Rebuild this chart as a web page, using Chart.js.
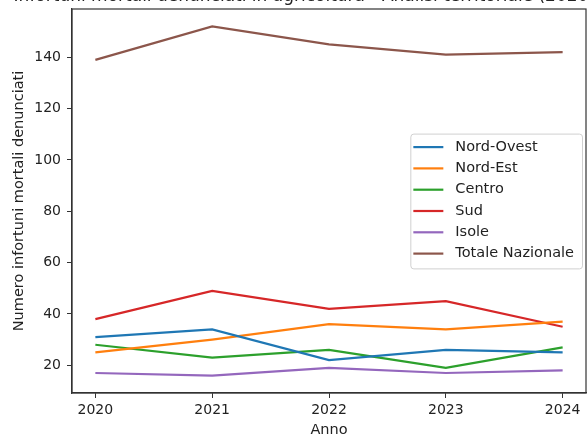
<!DOCTYPE html>
<html>
<head>
<meta charset="utf-8">
<script src="https://cdn.jsdelivr.net/npm/chart.js@4/dist/chart.umd.min.js"></script>
<style>
  html, body { margin: 0; padding: 0; background: #fff; }
  #wrap { position: relative; width: 588px; height: 434px; overflow: hidden; }
  #c { position: absolute; left: 0; top: -14px; }
</style>
</head>
<body>
<div id="wrap"><canvas id="c" width="588" height="456"></canvas></div>
<script>
// Fatal accidents reported in agriculture, by area, 2020-2024
const years = [2020, 2021, 2022, 2023, 2024];
const nordOvest = [31, 34, 22, 26, 25];
const nordEst = [25, 30, 36, 34, 37];
const centro = [28, 23, 26, 19, 27];
const sud = [38, 49, 42, 45, 35];
const isole = [17, 16, 19, 17, 18];
const totaleNazionale = [139, 152, 145, 141, 142];
const seriesNames = ['Nord-Ovest', 'Nord-Est', 'Centro', 'Sud', 'Isole', 'Totale Nazionale'];
const seriesValues = [nordOvest, nordEst, centro, sud, isole, totaleNazionale];
const seriesColors = ['#1f77b4', '#ff7f0e', '#2ca02c', '#d62728', '#9467bd', '#8c564b'];
const yTicks = [20, 40, 60, 80, 100, 120, 140];
const titleText = 'Infortuni mortali denunciati in agricoltura - Analisi territoriale (2020-2024)';

const FONT = 'DejaVu Sans';
const INK = '#333';

// axes frame on all four sides
const framePlugin = {
  id: 'frame',
  afterDraw(chart) {
    const { ctx, chartArea: a } = chart;
    ctx.save();
    ctx.strokeStyle = INK;
    ctx.lineWidth = 1.2;
    ctx.strokeRect(a.left, a.top, a.right - a.left, a.bottom - a.top);
    ctx.restore();
  }
};

// title centred over the plot, drawn at its natural width
const plotTitlePlugin = {
  id: 'plotTitle',
  afterDraw(chart) {
    const { ctx, chartArea: a } = chart;
    ctx.save();
    ctx.font = '17px "' + FONT + '"';
    ctx.fillStyle = '#222';
    ctx.textAlign = 'center';
    ctx.textBaseline = 'alphabetic';
    ctx.fillText(titleText, (a.left + a.right) / 2, a.top - 8);
    ctx.restore();
  }
};

// boxed legend at the centre right of the plot
const boxLegendPlugin = {
  id: 'boxLegend',
  afterDraw(chart) {
    const { ctx, chartArea: a } = chart;
    const sets = chart.data.datasets;
    ctx.save();
    ctx.font = '14.5px "' + FONT + '"';
    let tw = 0;
    sets.forEach(d => { tw = Math.max(tw, ctx.measureText(d.label).width); });
    const rowH = 21.3;
    const handle = 30, gap = 12, padL = 3, padR = 8;
    const w = padL + handle + gap + tw + padR;
    const h = rowH * sets.length + 7;
    const right = a.right - 4;
    const left = right - w;
    const top = (a.top + a.bottom) / 2 - h / 2;
    ctx.beginPath();
    ctx.roundRect(left + 0.5, top + 0.5, w, h, 3);
    ctx.fillStyle = 'rgba(255,255,255,0.8)';
    ctx.fill();
    ctx.strokeStyle = '#d0d0d0';
    ctx.lineWidth = 1;
    ctx.stroke();
    ctx.textBaseline = 'middle';
    ctx.textAlign = 'left';
    sets.forEach((d, i) => {
      const y = top + 13.5 + i * rowH;
      ctx.strokeStyle = d.borderColor;
      ctx.lineWidth = 2.2;
      ctx.beginPath();
      ctx.moveTo(left + padL, y);
      ctx.lineTo(left + padL + handle, y);
      ctx.stroke();
      ctx.fillStyle = '#222';
      ctx.fillText(d.label, left + padL + handle + gap, y);
    });
    ctx.restore();
  }
};

const datasets = seriesNames.map((name, k) => ({
  label: name,
  data: years.map((yr, i) => ({ x: yr, y: seriesValues[k][i] })),
  borderColor: seriesColors[k],
  backgroundColor: seriesColors[k],
  borderWidth: 2.2,
  pointRadius: 0,
  tension: 0,
  fill: false
}));

new Chart(document.getElementById('c'), {
  type: 'line',
  data: { datasets },
  options: {
    responsive: false,
    animation: false,
    devicePixelRatio: 1,
    layout: { padding: { top: 23, right: 2, left: 0, bottom: 0 } },
    plugins: {
      legend: { display: false },
      tooltip: { enabled: false },
      title: { display: false }
    },
    scales: {
      x: {
        type: 'linear',
        min: 2019.8,
        max: 2024.2,
        afterBuildTicks: s => { s.ticks = years.map(v => ({ value: v })); },
        afterFit: s => { s.height = 49; },
        grid: { display: true, drawOnChartArea: false, drawTicks: true, tickLength: 5, tickColor: INK },
        border: { display: true, color: INK, width: 1.2 },
        ticks: {
          color: '#222',
          font: { family: FONT, size: 14 },
          padding: 4,
          maxRotation: 0,
          callback: v => String(v)
        },
        title: {
          display: true,
          text: 'Anno',
          color: '#222',
          font: { family: FONT, size: 14.5 },
          padding: { top: 0, bottom: 3 }
        }
      },
      y: {
        type: 'linear',
        min: 9.2,
        max: 158.8,
        afterBuildTicks: s => { s.ticks = yTicks.map(v => ({ value: v })); },
        afterFit: s => { s.width = 72; },
        grid: { display: true, drawOnChartArea: false, drawTicks: true, tickLength: 5, tickColor: INK },
        border: { display: true, color: INK, width: 1.2 },
        ticks: {
          color: '#222',
          font: { family: FONT, size: 14 },
          padding: 6,
          callback: v => String(v)
        },
        title: {
          display: true,
          text: 'Numero infortuni mortali denunciati',
          color: '#222',
          font: { family: FONT, size: 14.5 },
          padding: { top: 11, bottom: 0 }
        }
      }
    }
  },
  plugins: [framePlugin, plotTitlePlugin, boxLegendPlugin]
});
</script>
</body>
</html>
